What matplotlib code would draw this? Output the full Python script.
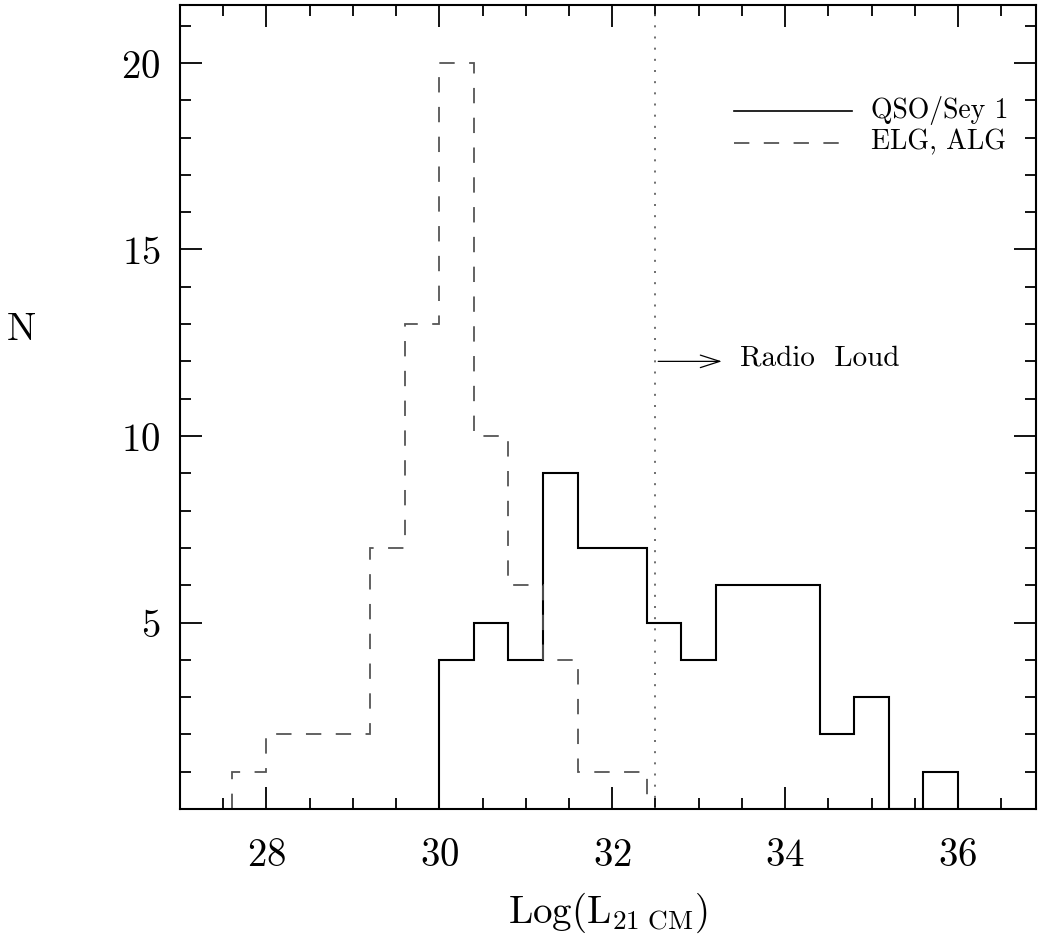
import numpy as np
import matplotlib
matplotlib.use("Agg")
import matplotlib.pyplot as plt
from matplotlib.ticker import MultipleLocator

plt.rcParams['font.family'] = 'serif'
plt.rcParams['font.serif'] = ['cmr10', 'DejaVu Serif']
plt.rcParams['mathtext.fontset'] = 'cm'
plt.rcParams['axes.formatter.use_mathtext'] = True

# histogram data (bin edges, counts)
qso_edges = [30.0, 30.4, 30.8, 31.2, 31.6, 32.0, 32.4, 32.8, 33.2, 33.6,
             34.0, 34.4, 34.8, 35.2, 35.6, 36.0]
qso_counts = [4, 5, 4, 9, 7, 7, 5, 4, 6, 6, 6, 2, 3, 0, 1]

elg_edges = [27.6, 28.0, 28.4, 28.8, 29.2, 29.6, 30.0, 30.4, 30.8, 31.2,
             31.6, 32.0, 32.4]
elg_counts = [1, 2, 2, 2, 7, 13, 20, 10, 6, 4, 1, 1]

radio_loud_cut = 32.5
arrow_y = 12

fig = plt.figure(figsize=(10.4, 9.37), dpi=100)
ax = fig.add_axes([0.173, 0.1355, 0.823, 0.858])

ax.stairs(qso_counts, qso_edges, color='black', lw=1.5, baseline=0)
ax.stairs(elg_counts, elg_edges, color='#555555', lw=1.3,
          linestyle=(0, (8.5, 8)), baseline=0)

ax.axvline(radio_loud_cut, color='#555555', lw=1.2, linestyle=(0, (1.2, 5.5)))
ax.annotate('', xy=(radio_loud_cut + 0.8, arrow_y), xytext=(radio_loud_cut, arrow_y),
            arrowprops=dict(arrowstyle='->,head_length=1.4,head_width=0.45',
                            color='black', lw=0.9))
ax.text(radio_loud_cut + 0.98, arrow_y + 0.1, 'Radio  Loud', fontsize=21,
        va='center', ha='left')

# legend drawn by hand like the original
ax.plot([33.41, 34.77], [18.7, 18.7], color='black', lw=1.2)
ax.plot([33.41, 34.77], [17.85, 17.85], color='#555555', lw=1.3,
        linestyle=(0, (8.5, 8)))
ax.text(34.99, 18.75, 'QSO/Sey 1', fontsize=20, va='center', ha='left')
ax.text(34.99, 17.9, 'ELG, ALG', fontsize=20, va='center', ha='left')

ax.set_xlim(27, 36.9)
ax.set_ylim(0, 21.55)
ax.xaxis.set_major_locator(MultipleLocator(2))
ax.xaxis.set_minor_locator(MultipleLocator(0.5))
ax.yaxis.set_major_locator(MultipleLocator(5))
ax.yaxis.set_minor_locator(MultipleLocator(1))
ax.set_yticks([5, 10, 15, 20])
ax.tick_params(which='both', direction='in', top=True, right=True, width=1.3)
ax.tick_params(which='major', length=16, labelsize=28, pad=20)
ax.tick_params(which='minor', length=8)
ax.tick_params(axis='y', pad=14)
for s in ax.spines.values():
    s.set_linewidth(1.5)

ax.set_xlabel(r'$\mathrm{Log(L_{21\ CM})}$', fontsize=28, labelpad=12)
ax.set_ylabel('N', fontsize=28, rotation=0, va='center', ha='center')
ax.yaxis.set_label_coords(-0.185, 0.597)

fig.savefig('out.png', dpi=100)
